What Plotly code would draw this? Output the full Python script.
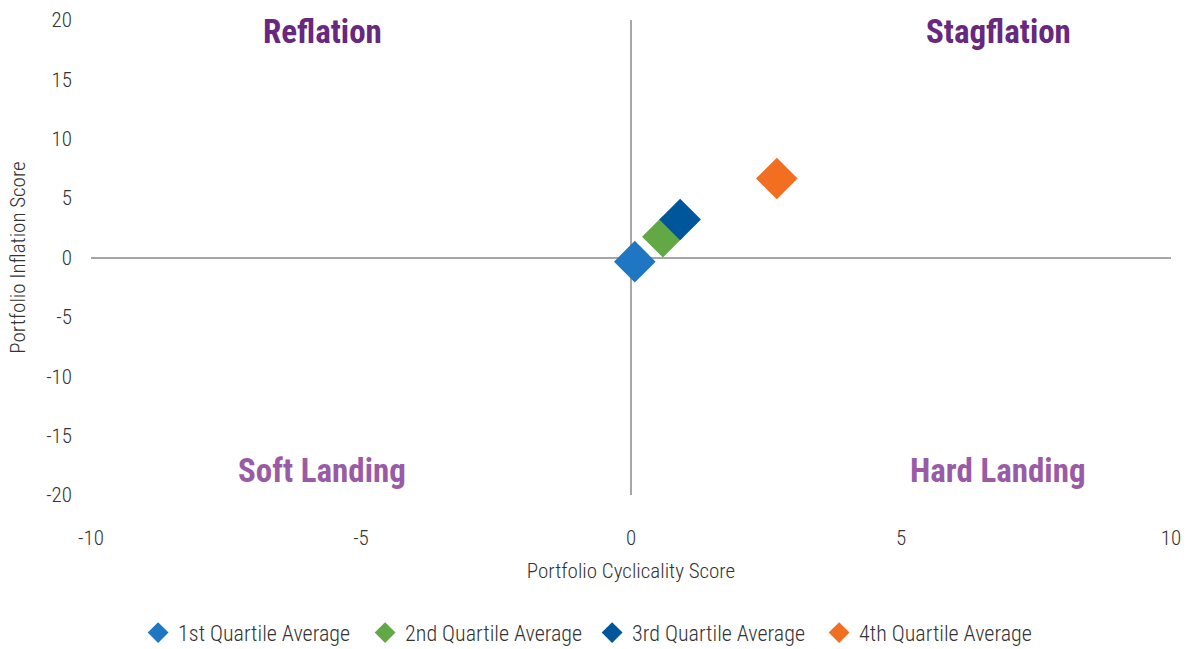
import plotly.graph_objects as go

series_names = ["1st Quartile Average", "2nd Quartile Average", "3rd Quartile Average", "4th Quartile Average"]
cyclicality = [0.07, 0.59, 0.91, 2.70]
inflation = [-0.35, 1.75, 3.2, 6.65]
colors = ["#1F77C3", "#62A844", "#00569A", "#F26F21"]

quadrant_labels = ["Reflation", "Stagflation", "Soft Landing", "Hard Landing"]
quadrant_x = [-5.72, 6.8, -5.72, 6.8]
quadrant_y = [19.0, 19.0, -17.9, -17.9]
quadrant_colors = ["#67287F", "#67287F", "#9A5BA6", "#9A5BA6"]

x_ticks = [-10, -5, 0, 5, 10]
y_ticks = [-20, -15, -10, -5, 0, 5, 10, 15, 20]

FONT = "Roboto Condensed, Liberation Sans Narrow, DejaVu Sans Condensed, Roboto"
TXT = "#333333"

fig = go.Figure()
for name, x, y, c in zip(series_names, cyclicality, inflation, colors):
    fig.add_trace(go.Scatter(
        x=[x], y=[y], mode="markers", name=name,
        marker=dict(symbol="diamond", size=32, color=c, line=dict(width=0)),
    ))

for t, x, y, c in zip(quadrant_labels, quadrant_x, quadrant_y, quadrant_colors):
    fig.add_annotation(x=x, y=y, text=f"<b>{t}</b>", showarrow=False,
                       font=dict(family=FONT, size=33, color=c),
                       xanchor="center", yanchor="middle")

fig.update_xaxes(range=[-10, 10], tickvals=x_ticks, ticktext=[str(v) for v in x_ticks],
                 showgrid=False, zeroline=True, zerolinecolor="#A6A6A6", zerolinewidth=1.5,
                 showline=False, ticks="", ticklabelstandoff=28, automargin=False,
                 tickfont=dict(family=FONT, size=21, color=TXT, weight=300),
                 title=dict(text="Portfolio Cyclicality Score", standoff=14,
                            font=dict(family=FONT, size=21, color=TXT, weight=300)))
fig.update_yaxes(range=[-20, 20], tickvals=y_ticks, ticktext=[str(v) for v in y_ticks],
                 showgrid=False, zeroline=True, zerolinecolor="#A6A6A6", zerolinewidth=1.5,
                 showline=False, ticks="", ticklabelstandoff=18, automargin=False,
                 tickfont=dict(family=FONT, size=21, color=TXT, weight=300),
                 title=dict(text="Portfolio Inflation Score", standoff=14,
                            font=dict(family=FONT, size=21, color=TXT, weight=300)))

fig.update_layout(
    width=1189, height=649,
    margin=dict(l=91, r=18, t=20, b=154, autoexpand=False),
    plot_bgcolor="white", paper_bgcolor="white",
    showlegend=True,
    legend=dict(orientation="h", x=0.464, xanchor="center", yref="container",
                y=0.025, yanchor="middle",
                font=dict(family=FONT, size=22, color=TXT, weight=300),
                itemwidth=30, tracegroupgap=0, entrywidth=182, entrywidthmode="pixels"),
)

fig.write_html("out.html")
